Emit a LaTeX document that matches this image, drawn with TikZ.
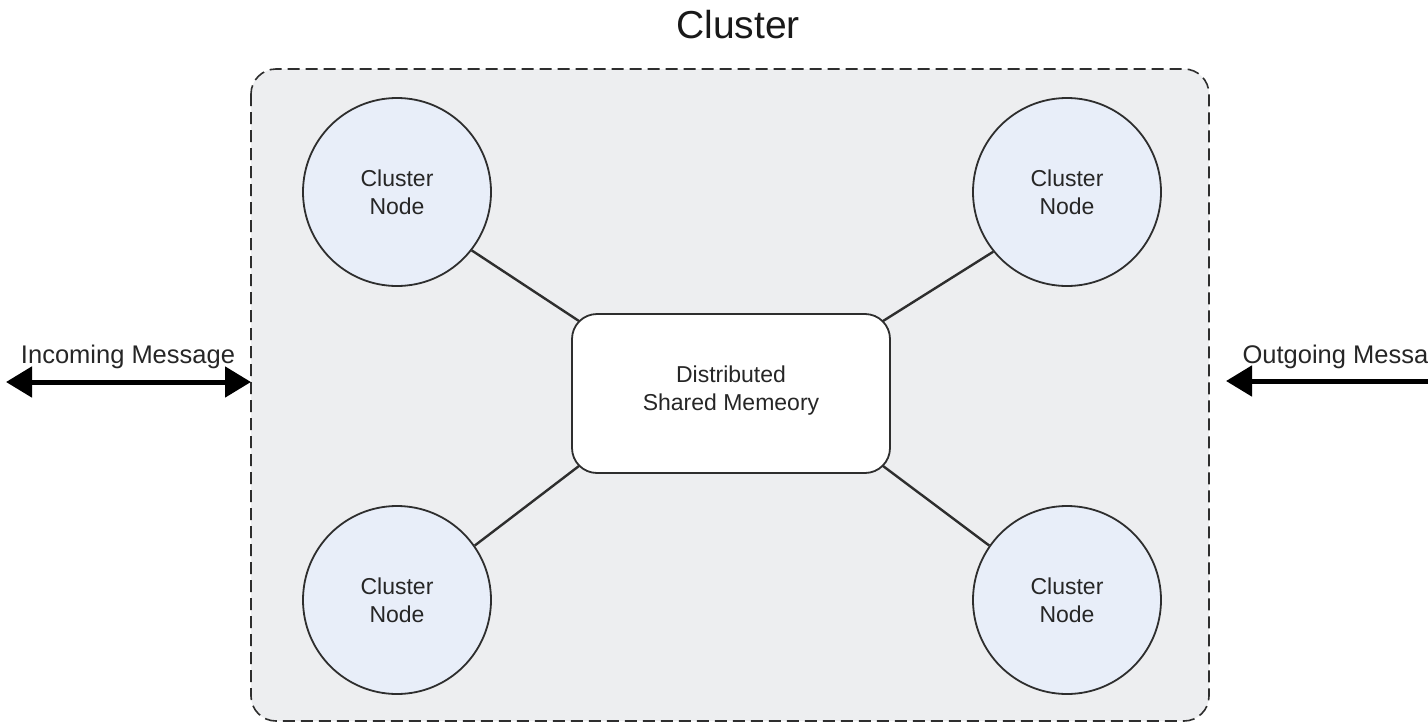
\documentclass[tikz,border=0pt]{standalone}
\usepackage{fontspec}
\setmainfont{Liberation Sans}
\usetikzlibrary{arrows.meta,calc}

\definecolor{clusterfill}{HTML}{EDEEF0}
\definecolor{nodefill}{HTML}{E8EEF9}
\definecolor{edgecol}{HTML}{2E2E2E}

\tikzset{
  clusterbox/.style={draw=edgecol, line width=1.6pt, dash pattern=on 12pt off 6pt,
    fill=clusterfill, rounded corners=25pt},
  cnode/.style={circle, draw=edgecol, line width=1.8pt, fill=nodefill,
    minimum size=188pt, inner sep=0pt, align=center,
    font=\fontsize{23}{28}\selectfont, text=black!85},
  memory/.style={rectangle, draw=edgecol, line width=1.8pt, fill=white,
    rounded corners=25pt, minimum width=318pt, minimum height=159pt,
    inner sep=0pt, align=center, font=\fontsize{23}{28}\selectfont, text=black!85},
  link/.style={draw=edgecol, line width=2.4pt},
  msg/.style={line width=5pt, black},
  msgtip/.tip={Triangle[length=26pt,width=30pt]},
  label/.style={font=\fontsize{25.5}{28}\selectfont, text=black!85},
}

\begin{document}
\begin{tikzpicture}[x=1pt,y=-1pt]
  \useasboundingbox (0,0) rectangle (1428,723);
  \clip (0,0) rectangle (1428,723);

  % title
  \node[font=\fontsize{39}{44}\selectfont, text=black!90] (title) at (738,25) {Cluster};

  % cluster frame
  \path[clusterbox] (251,69) rectangle (1209,721);

  % shared memory in the middle
  \node[memory] (dsm) at (731,393.5) {};
  \node[memory, draw=none, fill=none] (dsmtext) at (731,390.5) {Distributed\\Shared Memeory};

  % the four cluster nodes
  \node[cnode] (c1) at (397,192) {Cluster\\Node};
  \node[cnode] (c2) at (1067,192) {Cluster\\Node};
  \node[cnode] (c3) at (397,600) {Cluster\\Node};
  \node[cnode] (c4) at (1067,600) {Cluster\\Node};

  % links between nodes and memory
  \draw[link] (c1.-38) -- ($(dsm.north west)+(8pt,-8pt)$);
  \draw[link] (c2.-141) -- ($(dsm.north east)+(-8pt,-8pt)$);
  \draw[link] (c3.35) -- ($(dsm.south west)+(8pt,8pt)$);
  \draw[link] (c4.145) -- ($(dsm.south east)+(-8pt,8pt)$);

  % incoming messages
  \coordinate (inL) at (6,382);
  \coordinate (inR) at (251,382);
  \draw[msg, msgtip-msgtip] (inL) -- (inR);
  \node[label, anchor=base] (inlabel) at (128,363) {Incoming Message};

  % outgoing messages
  \coordinate (outR) at (1440,381);
  \coordinate (outL) at (1226,381);
  \draw[msg, -msgtip] (outR) -- (outL);
  \node[label, anchor=base west] (outlabel) at (1239,363) {Outgoing Message};
\end{tikzpicture}
\end{document}
